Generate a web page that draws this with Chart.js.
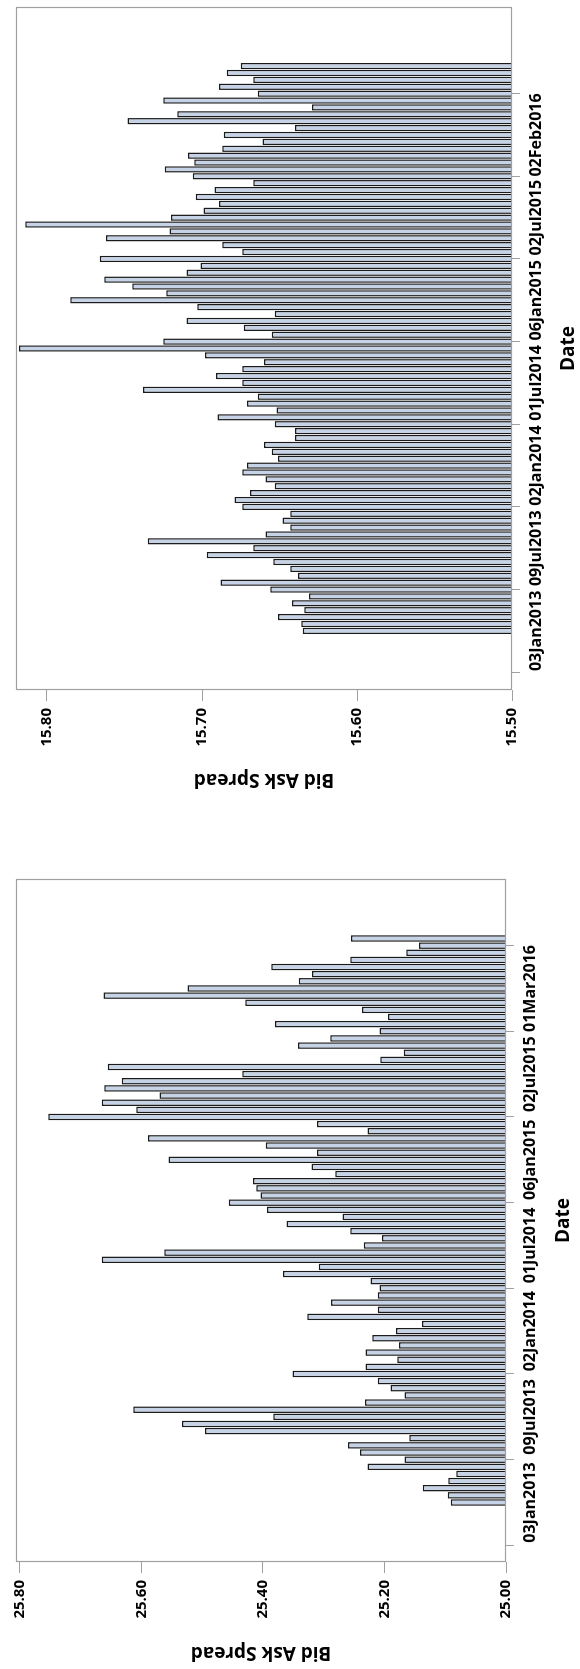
<!DOCTYPE html>
<html>
<head>
<meta charset="utf-8">
<script src="https://cdn.jsdelivr.net/npm/chart.js@4/dist/chart.umd.min.js"></script>
<style>
  html, body { margin: 0; padding: 0; background: #fff; overflow: hidden; }
  /* the whole figure is drawn landscape and turned a quarter left */
  #page { position: absolute; left: 0; top: 0; width: 1669px; height: 580px; background: #fff;
          transform-origin: 0 0; transform: translate(0px, 1669px) rotate(-90deg); }
  #left { position: absolute; left: 0; top: 0; }
  #right { position: absolute; left: 873px; top: 0; }
</style>
</head>
<body>
<div id="page">
  <canvas id="left" width="800" height="580"></canvas>
  <canvas id="right" width="796" height="580"></canvas>
</div>
<script>
// labelled dates, one every 12 bars
var leftDates = ['03Jan2013','09Jul2013','02Jan2014','01Jul2014','06Jan2015','02Jul2015','01Mar2016'];
var rightDates = ['03Jan2013','09Jul2013','02Jan2014','01Jul2014','06Jan2015','02Jul2015','02Feb2016'];
var tickEvery = 12;

var leftTicks = [25.00, 25.20, 25.40, 25.60, 25.80];
var rightTicks = [15.50, 15.60, 15.70, 15.80];

var leftSpread = [
  25.091, 25.096, 25.137, 25.095, 25.082, 25.228, 25.167, 25.240, 25.260, 25.159, 25.495, 25.533,
  25.383, 25.613, 25.232, 25.167, 25.190, 25.211, 25.351, 25.231, 25.179, 25.231, 25.176, 25.220,
  25.181, 25.138, 25.327, 25.211, 25.288, 25.211, 25.208, 25.223, 25.367, 25.308, 25.665, 25.562,
  25.234, 25.204, 25.256, 25.361, 25.269, 25.393, 25.456, 25.404, 25.411, 25.416, 25.281, 25.320,
  25.555, 25.311, 25.395, 25.589, 25.228, 25.311, 25.753, 25.608, 25.665, 25.570, 25.661, 25.632,
  25.434, 25.655, 25.207, 25.168, 25.342, 25.289, 25.208, 25.380, 25.194, 25.237, 25.429, 25.662,
  25.524, 25.341, 25.319, 25.386, 25.256, 25.164, 25.143, 25.255
];
var rightSpread = [
  15.635, 15.636, 15.651, 15.634, 15.642, 15.631, 15.656, 15.688, 15.638, 15.643, 15.654, 15.697,
  15.667, 15.735, 15.659, 15.643, 15.648, 15.643, 15.674, 15.679, 15.669, 15.653, 15.659, 15.674,
  15.671, 15.651, 15.655, 15.660, 15.640, 15.640, 15.653, 15.690, 15.652, 15.671, 15.664, 15.738,
  15.674, 15.691, 15.674, 15.660, 15.698, 15.818, 15.725, 15.655, 15.673, 15.710, 15.653, 15.703,
  15.785, 15.723, 15.745, 15.763, 15.710, 15.701, 15.766, 15.674, 15.687, 15.762, 15.721, 15.814,
  15.720, 15.699, 15.689, 15.704, 15.692, 15.667, 15.706, 15.724, 15.705, 15.709, 15.687, 15.661,
  15.686, 15.640, 15.748, 15.716, 15.629, 15.725, 15.664, 15.689, 15.667, 15.684, 15.675
];

Chart.defaults.font.family = "'Open Sans', sans-serif";
Chart.defaults.color = '#000';

// grey box round the plot area
var frame = {
  id: 'frame',
  afterDatasetsDraw: function(chart) {
    var a = chart.chartArea, ctx = chart.ctx;
    ctx.save();
    ctx.strokeStyle = '#a0a0a0';
    ctx.lineWidth = 1.2;
    ctx.strokeRect(a.left + 0.5, a.top + 0.5, a.right - a.left - 1, a.bottom - a.top - 1);
    ctx.restore();
  }
};

function makeChart(id, values, dates, ticks, vmax, o) {
  var n = values.length;
  var idx = values.map(function(v, i) { return i; });
  return new Chart(document.getElementById(id), {
    type: 'bar',
    data: {
      labels: idx,
      datasets: [{
        data: values,
        backgroundColor: '#c6d3e6',
        borderColor: '#1a1a1a',
        borderWidth: 1.5,
        barPercentage: 0.92,
        categoryPercentage: 1
      }]
    },
    options: {
      responsive: false,
      animation: false,
      layout: { padding: { left: 0, right: o.right, top: o.top, bottom: 0 } },
      plugins: { legend: { display: false }, tooltip: { enabled: false } },
      scales: {
        x: {
          type: 'linear',
          min: -1.5,
          max: n + 0.5,
          afterBuildTicks: function(s) {
            s.ticks = dates.map(function(d, k) { return { value: k * tickEvery }; });
          },
          afterFit: function(s) { s.height = o.xh; },
          ticks: {
            autoSkip: false, maxRotation: 0, minRotation: 0, padding: 7,
            font: { size: 16, weight: 'bold' },
            callback: function(v) { return dates[v / tickEvery] || ''; }
          },
          grid: { drawOnChartArea: false, tickLength: 8, color: '#a0a0a0' },
          border: { display: false },
          title: { display: true, text: 'Date', font: { size: 19, weight: 'bold' },
                   padding: { top: 0, bottom: o.tb } }
        },
        y: {
          min: ticks[0],
          max: vmax,
          afterBuildTicks: function(s) {
            s.ticks = ticks.map(function(t) { return { value: t }; });
          },
          afterFit: function(s) { s.width = o.yw; },
          ticks: {
            padding: 7,
            font: { size: 15, weight: 'bold' },
            callback: function(v) { return v.toFixed(2); }
          },
          grid: { drawOnChartArea: false, tickLength: 11, color: '#a0a0a0' },
          border: { display: false },
          title: { display: true, text: 'Bid Ask Spread', font: { size: 19, weight: 'bold' },
                   padding: { top: 5, bottom: 4 } }
        }
      }
    },
    plugins: [frame]
  });
}

makeChart('left', leftSpread, leftDates, leftTicks, 25.806, { right: 10, top: 12, xh: 74, yw: 107, tb: 5 });
makeChart('right', rightSpread, rightDates, rightTicks, 15.82, { right: 7, top: 13, xh: 68, yw: 106, tb: 0 });
</script>
</body>
</html>
